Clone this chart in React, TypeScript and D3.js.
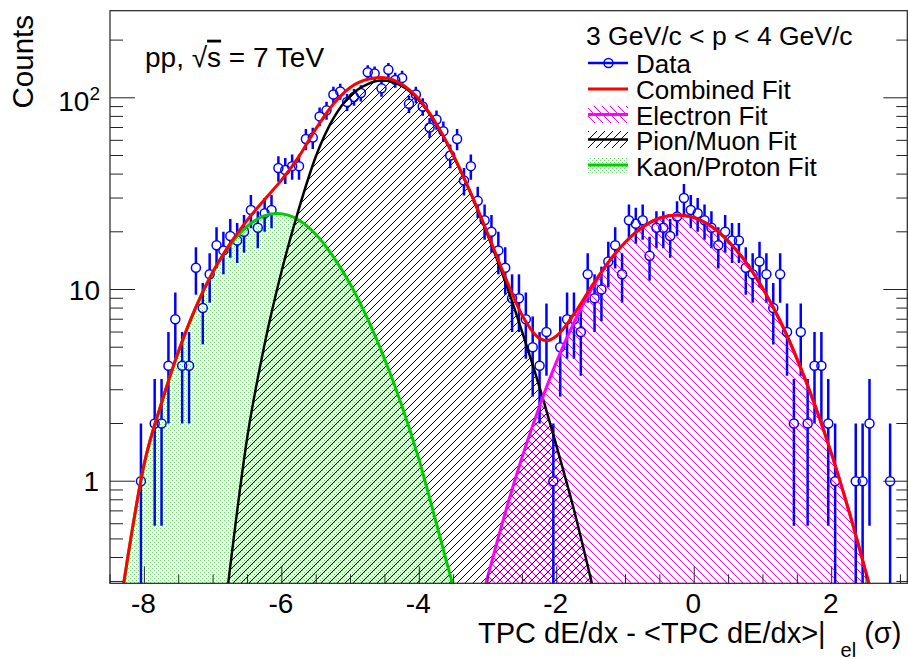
import React from 'react';
import * as d3 from 'd3';

const W = 908;
const H = 659;

// Histogram bin centres (non-empty bins) and counts
const dataX = [-8.05, -7.85, -7.75, -7.65, -7.55, -7.45, -7.35, -7.25, -7.15, -7.05,
  -6.95, -6.85, -6.75, -6.65, -6.55, -6.45, -6.35, -6.25, -6.15,
  -6.05, -5.95, -5.85, -5.75, -5.65, -5.55, -5.45, -5.35, -5.25, -5.15,
  -5.05, -4.95, -4.85, -4.75, -4.65, -4.55, -4.45, -4.35, -4.25, -4.15,
  -4.05, -3.95, -3.85, -3.75, -3.65, -3.55, -3.45, -3.35, -3.25, -3.15,
  -3.05, -2.95, -2.85, -2.75, -2.65, -2.55, -2.45, -2.35, -2.25, -2.15,
  -2.05,
  -1.95, -1.85, -1.75, -1.65, -1.55, -1.45, -1.35, -1.25, -1.15, -1.05,
  -0.95, -0.85, -0.75, -0.65, -0.55, -0.45, -0.35, -0.25, -0.15, -0.05,
  0.05, 0.15, 0.25, 0.35, 0.45, 0.55, 0.65, 0.75, 0.85, 0.95,
  1.05, 1.15, 1.25, 1.35, 1.45, 1.55, 1.65, 1.75, 1.85, 1.95,
  2.05, 2.35, 2.45, 2.55, 2.85];
const dataCounts = [1, 2, 2, 4, 7, 4, 4, 13, 8, 12,
  17, 16, 19, 18, 20, 26, 21, 25, 26,
  43, 42, 44, 44, 61, 62, 80, 86, 104, 108,
  95, 101, 106, 136, 134, 112, 140, 124, 127, 93,
  104, 90, 70, 77, 67, 50, 61, 37, 44, 29,
  23, 20, 16, 13, 9, 9, 7, 5, 4, 6,
  1,
  5, 7, 7, 6, 12, 9, 10, 14, 17, 12,
  23, 22, 23, 15, 21, 21, 19, 24, 30, 26,
  25, 23, 21, 17, 20, 18, 18, 13, 12, 14,
  12, 8, 12, 6, 2, 6, 2, 4, 4, 2,
  1, 1, 1, 2, 1];

// Fit curves, values
const kaonX = [-8.3, -8.0, -7.75, -7.5, -7.25, -7.0, -6.75, -6.5, -6.25, -6.07, -5.75, -5.5, -5.25, -5.0, -4.75, -4.5, -4.25, -4.0, -3.75, -3.52];
const kaonY = [0.294, 1.24, 2.56, 4.79, 8.1, 12.4, 17.1, 21.4, 24.3, 24.9, 23.0, 19.3, 14.8, 10.6, 7.0, 4.3, 2.45, 1.28, 0.6, 0.294];

const pionX = [-6.78, -6.5, -6.25, -6.0, -5.75, -5.5, -5.25, -5.0, -4.75, -4.55, -4.25, -4.0, -3.75, -3.5, -3.25, -3.0, -2.75, -2.5, -2.25, -2.0, -1.75, -1.49];
const pionY = [0.294, 1.72, 5.2, 12.6, 26.5, 50, 78, 103, 118, 123, 115, 96.6, 72.4, 49.5, 31.6, 19.0, 11.0, 5.96, 3.09, 1.51, 0.71, 0.294];

const elecX = [-3.03, -2.75, -2.5, -2.25, -2.0, -1.75, -1.5, -1.25, -1.0, -0.75, -0.5, -0.245, 0.0, 0.25, 0.5, 0.75, 1.0, 1.25, 1.5, 1.75, 2.0, 2.25, 2.54];
const elecY = [0.294, 0.684, 1.35, 2.47, 4.23, 6.73, 9.97, 13.8, 17.7, 21.2, 23.6, 24.5, 23.7, 21.3, 17.8, 13.9, 10.1, 6.85, 4.31, 2.53, 1.38, 0.70, 0.294];

const combX = [-8.3, -8.0, -7.75, -7.5, -7.25, -7.0, -6.75, -6.5, -6.25, -6.0, -5.75, -5.5, -5.25, -5.0, -4.75, -4.55, -4.25, -4.0, -3.75, -3.5, -3.25, -3.0, -2.75, -2.5, -2.25, -2.15, -2.0, -1.75, -1.5, -1.25, -1.0, -0.75, -0.5, -0.245, 0.0, 0.25, 0.5, 0.75, 1.0, 1.25, 1.5, 1.75, 2.0, 2.25, 2.54];
const combY = [0.294, 1.24, 2.56, 4.79, 8.1, 12.4, 17.4, 23.1, 29.5, 37.4, 49.5, 69.3, 92.8, 113.6, 125, 127.6, 117.3, 97.9, 73, 49.8, 31.8, 19.4, 11.6, 7.3, 5.56, 5.41, 5.74, 7.44, 10.3, 13.9, 17.7, 21.2, 23.6, 24.5, 23.7, 21.3, 17.8, 13.9, 10.1, 6.85, 4.31, 2.53, 1.38, 0.70, 0.294];

const xTickValues = [-8, -6, -4, -2, 0, 2];
const xTickLabels = ['-8', '-6', '-4', '-2', '0', '2'];
const yMajorValues = [1, 10, 100];

const legendTitle = '3 GeV/c < p < 4 GeV/c';
const legendLabels = ['Data', 'Combined Fit', 'Electron Fit', 'Pion/Muon Fit', 'Kaon/Proton Fit'];

const FONT = '"Liberation Sans", Arial, Helvetica, sans-serif';

export default function App() {
  const x = d3.scaleLinear().domain([-8.5, 3.1]).range([110, 907.3]);
  const y = d3.scaleLog().domain([0.2934, 284.7]).range([583.3, 10.7]);
  const [x0, x1] = x.range();
  const [yB, yT] = y.range();

  const zip = (xs: number[], ys: number[]) => xs.map((v, i) => [v, ys[i]] as [number, number]);
  const line = d3.line<[number, number]>().x(d => x(d[0])).y(d => y(d[1])).curve(d3.curveMonotoneX);
  const area = d3.area<[number, number]>().x(d => x(d[0])).y0(yB).y1(d => y(d[1])).curve(d3.curveMonotoneX);

  const kaon = zip(kaonX, kaonY);
  const pion = zip(pionX, pionY);
  const elec = zip(elecX, elecY);
  const comb = zip(combX, combY);

  // axis ticks
  const xMinor = d3.range(-8.5, 3.11, 0.5).filter(v => Math.abs(v % 2) > 1e-6);
  const yMinor: number[] = [];
  [0.1, 1, 10, 100].forEach(dec => {
    for (let k = 2; k <= 9; k++) {
      const v = k * dec;
      if (v >= 0.2934 && v <= 284.7) yMinor.push(v);
    }
  });

  const r = 4.5;
  const blue = '#0000ff';

  const legendRows = [73.3, 99, 124.5, 150, 175.7];

  return (
    <div style={{ position: 'absolute', left: 0, top: 0 }}>
      <svg width={W} height={H} style={{ display: 'block', background: '#fff' }} fontFamily={FONT}>
        <defs>
          <clipPath id="plotClip">
            <rect x={x0} y={yT} width={x1 - x0} height={yB - yT} />
          </clipPath>
          <pattern id="hatchBlack" patternUnits="userSpaceOnUse" width={8} height={8}>
            <path d="M-2,2 L2,-2 M0,8 L8,0 M6,10 L10,6" stroke="#000" strokeWidth={1} />
          </pattern>
          <pattern id="hatchMag" patternUnits="userSpaceOnUse" width={8} height={8}>
            <path d="M-2,6 L2,10 M0,0 L8,8 M6,-2 L10,2" stroke="#ff00ff" strokeWidth={1} />
          </pattern>
          <pattern id="dotsGreen" patternUnits="userSpaceOnUse" width={4} height={4}>
            <rect x={0} y={0} width={1} height={1} fill="#00c800" fillOpacity={0.6} />
            <rect x={2} y={2} width={1} height={1} fill="#00c800" fillOpacity={0.6} />
          </pattern>
        </defs>

        <g clipPath="url(#plotClip)">
          <path d={area(kaon) || ''} fill="url(#dotsGreen)" />
          <path d={area(pion) || ''} fill="url(#hatchBlack)" />
          <path d={area(elec) || ''} fill="url(#hatchMag)" />

          {dataX.map((xv, i) => {
            const n = dataCounts[i];
            const e = Math.sqrt(n);
            const cx = x(xv);
            const cy = y(n);
            const top = y(n + e);
            const lo = n - e;
            const bot = lo > 0.2934 ? y(lo) : yB + 2;
            return (
              <g key={i}>
                {top < cy - r && <line x1={cx} x2={cx} y1={top} y2={cy - r} stroke={blue} strokeWidth={2.5} />}
                {bot > cy + r && <line x1={cx} x2={cx} y1={cy + r} y2={bot} stroke={blue} strokeWidth={2.5} />}
                <circle cx={cx} cy={cy} r={r} fill="none" stroke={blue} strokeWidth={1.5} />
              </g>
            );
          })}

          <path d={line(kaon) || ''} fill="none" stroke="#00cc00" strokeWidth={3} />
          <path d={line(pion) || ''} fill="none" stroke="#000" strokeWidth={2.5} />
          <path d={line(elec) || ''} fill="none" stroke="#ff00ff" strokeWidth={3} />
          <path d={line(comb) || ''} fill="none" stroke="#ff0000" strokeWidth={3} />
        </g>

        {/* frame */}
        <rect x={x0} y={yT} width={x1 - x0} height={yB - yT} fill="none" stroke="#222" strokeWidth={1.2} />

        {/* x ticks */}
        {xTickValues.map(v => (
          <line key={'xM' + v} x1={x(v)} x2={x(v)} y1={yB} y2={yB - 17} stroke="#222" strokeWidth={1} />
        ))}
        {xMinor.map(v => (
          <line key={'xm' + v} x1={x(v)} x2={x(v)} y1={yB} y2={yB - 9} stroke="#222" strokeWidth={1} />
        ))}
        {xTickValues.map((v, i) => (
          <text key={'xl' + v} x={x(v) - 1} y={613.3} textAnchor="middle" fontSize={28} fill="#000">{xTickLabels[i]}</text>
        ))}

        {/* y ticks, left and right */}
        {yMajorValues.map(v => (
          <g key={'yM' + v}>
            <line x1={x0} x2={x0 + 25} y1={y(v)} y2={y(v)} stroke="#222" strokeWidth={1} />
            <line x1={x1} x2={x1 - 24} y1={y(v)} y2={y(v)} stroke="#222" strokeWidth={1} />
          </g>
        ))}
        {yMinor.map(v => (
          <g key={'ym' + v}>
            <line x1={x0} x2={x0 + 13} y1={y(v)} y2={y(v)} stroke="#222" strokeWidth={1} />
            <line x1={x1} x2={x1 - 11} y1={y(v)} y2={y(v)} stroke="#222" strokeWidth={1} />
          </g>
        ))}
        <text x={99} y={y(1) + 10} textAnchor="end" fontSize={28}>1</text>
        <text x={100} y={y(10) + 10.5} textAnchor="end" fontSize={28}>10</text>
        <text x={100} y={y(100) + 13.5} textAnchor="end" fontSize={28}>
          10<tspan dy={-11} fontSize={19}>2</tspan>
        </text>

        {/* axis titles */}
        <text transform="translate(33.3,15) rotate(-90)" textAnchor="end" fontSize={29.5}>Counts</text>
        <text x={478} y={643.3} fontSize={29}>
          {'TPC dE/dx - <TPC dE/dx>|'}
          <tspan dx={15} dy={14} fontSize={20}>el</tspan>
          <tspan dx={8} dy={-14}>(σ)</tspan>
        </text>

        {/* annotation */}
        <text x={145} y={66.7} fontSize={28}>
          {'pp, √'}<tspan style={{ textDecoration: 'overline' }}>s</tspan>{' = 7 TeV'}
        </text>

        {/* legend */}
        <text x={586} y={45} fontSize={26.5}>{legendTitle}</text>
        {legendLabels.map((lab, i) => (
          <text key={lab} x={636} y={legendRows[i]} fontSize={26}>{lab}</text>
        ))}
        {/* Data */}
        <line x1={588} x2={628} y1={63} y2={63} stroke={blue} strokeWidth={2.5} />
        <circle cx={608.5} cy={63} r={4.5} fill="none" stroke={blue} strokeWidth={1.5} />
        {/* Combined */}
        <line x1={588} x2={628} y1={89} y2={89} stroke="#ff0000" strokeWidth={3} />
        {/* Electron */}
        <rect x={588} y={106} width={40} height={17} fill="url(#hatchMag)" />
        <line x1={588} x2={628} y1={114.5} y2={114.5} stroke="#ff00ff" strokeWidth={3} />
        {/* Pion */}
        <rect x={588} y={131} width={40} height={17} fill="url(#hatchBlack)" />
        <line x1={588} x2={628} y1={139.5} y2={139.5} stroke="#000" strokeWidth={2.5} />
        {/* Kaon */}
        <rect x={588} y={157} width={40} height={17} fill="url(#dotsGreen)" />
        <line x1={588} x2={628} y1={165} y2={165} stroke="#00cc00" strokeWidth={3} />
      </svg>
    </div>
  );
}
